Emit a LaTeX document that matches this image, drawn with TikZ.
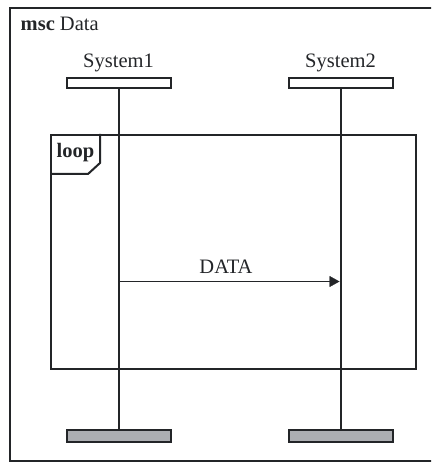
\documentclass[tikz,border=0pt]{standalone}
\usepackage{fontspec}
\setmainfont{Liberation Serif}
\usetikzlibrary{arrows.meta, positioning}
\definecolor{tailgray}{RGB}{172,174,178}
\definecolor{ink}{RGB}{35,37,40}

\begin{document}
\begin{tikzpicture}
[x=1pt, y=-1pt, ink,
   msg/.style={thin,arrows={-Triangle[length=10pt,width=11pt]}},
   head/.style={shape=rectangle, draw, line width=2pt, minimum width=104pt, minimum height=10pt, inner sep=0pt},
   tail/.style={head, fill=tailgray, minimum height=12pt},
   life/.style={line width=2pt},
   frame/.style={draw, line width=2.6pt},
   loopbox/.style={shape=rectangle, draw, line width=2.4pt, inner sep=0pt},
   big/.style={font=\fontsize{20.5}{24}\selectfont}]
\useasboundingbox (0,0) rectangle (431,462);
\begin{scope}
\clip (0,0) rectangle (431,462);
\draw[frame] (10,8) rectangle (434,461);
\end{scope}
\node[big, anchor=base west, inner sep=0pt] (title) at (20.5,31) {\textbf{msc} Data};
% instance heads and ends
\node[head] (S1) at (118.5,83) {};
\node[head] (S2) at (340.5,83) {};
\node[big, anchor=base, inner sep=0pt] (S1name) at (118.5,68) {System1};
\node[big, anchor=base, inner sep=0pt] (S2name) at (340.5,68) {System2};
\node[tail] (E1) at (118.5,436) {};
\node[tail] (E2) at (340.5,436) {};
% loop frame
\node[loopbox, minimum width=365pt, minimum height=234pt, anchor=north west] (L) at (50,134) {};
\draw[line width=2pt] ([xshift=50pt]L.north west) -- ++(0,29) -- ++(-12,11) -- ([yshift=-40pt]L.north west);
\node[big, anchor=base, inner sep=0pt] (Lname) at (75.5,158) {\textbf{loop}};
% lifelines
\draw[life] (S1) -- (E1);
\draw[life] (S2) -- (E2);
% message
\coordinate (m1) at (118.5,281.5);
\coordinate (m2) at (339.5,281.5);
\draw[msg] (m1) -- node[big, above, inner sep=7.5pt, xshift=-3pt] (DATA) {DATA} (m2);
\end{tikzpicture}
\end{document}
